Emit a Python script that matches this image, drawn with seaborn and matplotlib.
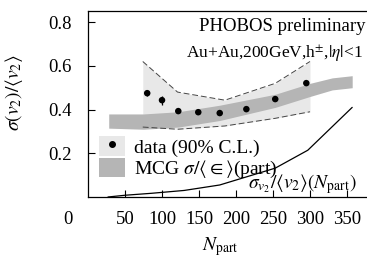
import numpy as np
import pandas as pd
import matplotlib
matplotlib.use("Agg")
import matplotlib.pyplot as plt
import seaborn as sns
from matplotlib.patches import Patch
from matplotlib.lines import Line2D

# data points (sigma(v2)/<v2>) with small stat errors
npart = [80, 100, 122, 149, 178, 214, 253, 295]
ratio = [0.475, 0.443, 0.393, 0.388, 0.384, 0.402, 0.448, 0.521]
err = [0.015, 0.02, 0.008, 0.008, 0.008, 0.008, 0.008, 0.01]

# 90% C.L. band
cl_x = [74, 121, 185, 253, 300]
cl_hi = [0.62, 0.48, 0.443, 0.52, 0.62]
cl_lo = [0.32, 0.31, 0.325, 0.36, 0.39]

# MCG sigma/<eps>(part) band
mcg_x = [28, 75, 122, 178, 253, 300, 330, 357]
mcg_hi = [0.38, 0.38, 0.39, 0.42, 0.47, 0.52, 0.545, 0.555]
mcg_lo = [0.315, 0.31, 0.32, 0.35, 0.41, 0.46, 0.49, 0.50]

# sigma_v2/<v2>(Npart) curve
curve_x = [27, 50, 86, 130, 178, 253, 297, 357]
curve_y = [0.0, 0.008, 0.017, 0.03, 0.055, 0.132, 0.214, 0.41]

xticks = [50, 100, 150, 200, 250, 300, 350]
yticks = [0.2, 0.4, 0.6, 0.8]

sns.set_style("ticks")
plt.rcParams['font.family'] = ['Liberation Serif', 'DejaVu Serif']
plt.rcParams['mathtext.fontset'] = 'stix'
plt.rcParams['text.color'] = 'black'
plt.rcParams['axes.labelcolor'] = 'black'

fig = plt.figure(figsize=(3.67, 2.58), dpi=100)
ax = fig.add_axes([88/367, 61/258, 279/367, 186/258])

light = '#e8e8e8'
dark = '#b5b5b5'
ax.fill_between(cl_x, cl_lo, cl_hi, color=light, lw=0, zorder=1)
ax.fill_between(mcg_x, mcg_lo, mcg_hi, color=dark, lw=0, zorder=2)
ax.plot(cl_x, cl_hi, ls=(0, (6, 3)), color='#444444', lw=0.7, zorder=3)
ax.plot(cl_x, cl_lo, ls=(0, (6, 3)), color='#444444', lw=0.7, zorder=3)

df_curve = pd.DataFrame({'x': curve_x, 'y': curve_y})
sns.lineplot(data=df_curve, x='x', y='y', color='black', lw=0.9, ax=ax, zorder=4)

df = pd.DataFrame({'npart': npart, 'ratio': ratio})
ax.errorbar(npart, ratio, yerr=err, fmt='none', ecolor='black', elinewidth=0.9, zorder=5)
sns.scatterplot(data=df, x='npart', y='ratio', color='black', s=22, edgecolor='none', ax=ax, zorder=6)

ax.set_xlim(0, 377)
ax.set_ylim(0, 0.851)
ax.set_xticks(xticks)
ax.set_xticklabels([str(t) for t in xticks])
ax.set_yticks(yticks)
ax.set_yticklabels(['0.2', '0.4', '0.6', '0.8'])
ax.tick_params(direction='in', length=5, width=0.8, labelsize=13.5, colors='black')
ax.tick_params(axis='x', pad=10)
ax.tick_params(axis='y', pad=12)
ax.spines['right'].set_visible(False)
for s in ['left', 'bottom', 'top']:
    ax.spines[s].set_linewidth(0.9)
    ax.spines[s].set_color('black')

ax.text(-27, -(220-197)*0.851/186, '0', fontsize=13.5, ha='center', va='center', clip_on=False)

ax.set_xlabel(r'$N_{\rm part}$', fontsize=14)
ax.xaxis.set_label_coords((220-88)/279, -(235-197)/186)
ax.set_ylabel(r'$\sigma(v_2)/\langle v_2\rangle$', fontsize=14)
ax.yaxis.set_label_coords(-(88-25)/279, (197-93)/186)

ax.text(0.995, 0.915, 'PHOBOS preliminary', transform=ax.transAxes, ha='right', va='center', fontsize=13.5)
ax.text(0.985, 0.77, r'Au+Au,200GeV,h$^{\pm}$,$|\eta|$<1', transform=ax.transAxes,
        ha='right', va='center', fontsize=12.5)
ax.text(216, 0.004, r'$\sigma_{v_2}/\langle v_2\rangle(N_{\rm part})$', ha='left', va='bottom', fontsize=14)

h_data = (Patch(facecolor=light, edgecolor='none'),
          Line2D([], [], marker='o', color='black', ls='none', markersize=4))
h_mcg = Patch(facecolor=dark, edgecolor='none')
ax.legend([h_data, h_mcg], ['data (90% C.L.)', r'MCG $\sigma/\langle\in\rangle$(part)'],
          loc='upper left', bbox_to_anchor=((99-88)/279, (197-136)/186), frameon=False, fontsize=14,
          handlelength=1.35, handleheight=1.2, handletextpad=0.45, labelspacing=0.05,
          borderaxespad=0, borderpad=0)

fig.savefig('out.png', dpi=100)
